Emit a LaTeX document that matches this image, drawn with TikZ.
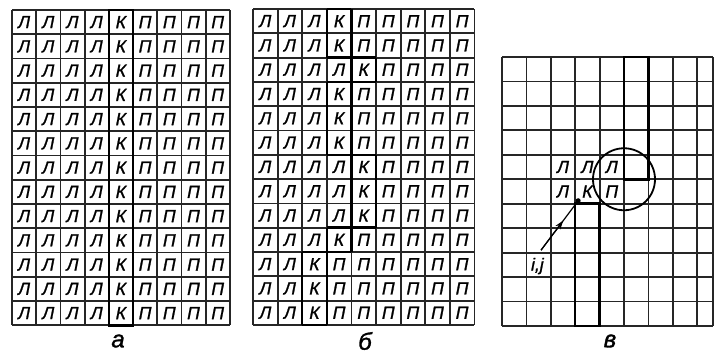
\documentclass[tikz,border=0pt]{standalone}
\usepackage{fontspec}
\setsansfont{Liberation Sans}
\newfontfamily\cellfont{Liberation Sans}[FakeBold=1.3]
\usetikzlibrary{arrows.meta,calc}

% letter of a cell: left of the K column, the K column, right of it
\newcommand\cellletter[2]{\ifnum#1<#2 Л\else\ifnum#1=#2 К\else П\fi\fi}

\begin{document}
\begin{tikzpicture}[x=1pt, y=-1pt,
        letter/.style={font=\cellfont\itshape\fontsize{17.5}{17.5}\selectfont, inner sep=0pt},
        grid line/.style={line width=1.8pt, black!85},
        bold line/.style={line width=2.5pt, black, line cap=square},
        caption/.style={font=\cellfont\itshape\fontsize{24}{24}\selectfont, inner sep=0pt},
        arrow/.style={-{Stealth[length=9pt, width=6pt]}, line width=1.2pt},
      ]
      \useasboundingbox (0,0) rectangle (714,354);
      % panel a
      \begin{scope}[shift={(12,10)}, x=24.2pt, y=-24.25pt]
        \foreach \r in {0,...,13} \draw [grid line] (0,\r) -- (9,\r);
        \foreach \c in {0,...,9} \draw [grid line] (\c,0) -- (\c,13);
        \foreach \r in {0,...,12}
          \foreach \c in {0,...,8}
            \node [letter] (a-\r-\c) at (\c+0.5,\r+0.5) {\cellletter{\c}{4}};
        \draw [bold line] (4,0) rectangle (5,13);
      \end{scope}
      % panel b
      \begin{scope}[shift={(253,9)}, x=24.6pt, y=-24.3pt]
        \foreach \r in {0,...,13} \draw [grid line] (0,\r) -- (9,\r);
        \foreach \c in {0,...,9} \draw [grid line] (\c,0) -- (\c,13);
        \foreach \k [count=\r from 0, remember=\k as \kp (initially 3)] in {3,3,4,3,3,3,4,4,4,3,2,2,2} {
          \foreach \c in {0,...,8}
            \node [letter] (b-\r-\c) at (\c+0.5,\r+0.5) {\cellletter{\c}{\k}};
          \draw [bold line] (\k,\r) -- (\k,\r+1) (\k+1,\r) -- (\k+1,\r+1);
          \ifnum\k=\kp\else
            \draw [bold line] (\kp,\r) -- (\k,\r) (\kp+1,\r) -- (\k+1,\r);
          \fi
        }
        \draw [bold line] (3,0) -- (4,0);
        \draw [bold line] (2,13) -- (3,13);
      \end{scope}
      % panel c
      \begin{scope}[shift={(502,57)}, x=24.4pt, y=-24.45pt]
        \foreach \r in {0,...,11} \draw [grid line] (0,\r) -- (8.65,\r);
        \foreach \c in {0,...,8,8.65} \draw [grid line] (\c,0) -- (\c,11);
        \draw [bold line] (5,0) rectangle (6,5);
        \draw [bold line] (3,6) rectangle (4,11);
        \node [letter] (c-4-2) at (2.5,4.5) {Л};
        \node [letter] (c-4-3) at (3.5,4.5) {Л};
        \node [letter] (c-4-4) at (4.5,4.5) {Л};
        \node [letter] (c-5-2) at (2.5,5.5) {Л};
        \node [letter] (c-5-3) at (3.5,5.5) {К};
        \node [letter] (c-5-4) at (4.5,5.5) {П};
        \node [draw, circle, line width=1.8pt, minimum size=62pt] (nbhd) at (5,5) {};
        \node [fill, circle, inner sep=1.8pt] (ij) at (3.12,5.88) {};
        \coordinate (ijtail) at (1.6,7.9);
        \draw [line width=1.2pt] (ijtail) -- (ij);
        \draw [arrow] (ijtail) -- ($(ijtail)!0.6!(ij)$);
        \node [letter] (ijlabel) at (1.45,8.55) {i,j};
      \end{scope}
      \node [caption] (cap-a) at (118,341) {а};
      \node [caption] (cap-b) at (365,341) {б};
      \node [caption] (cap-c) at (610,341) {в};
    \end{tikzpicture}
\end{document}
